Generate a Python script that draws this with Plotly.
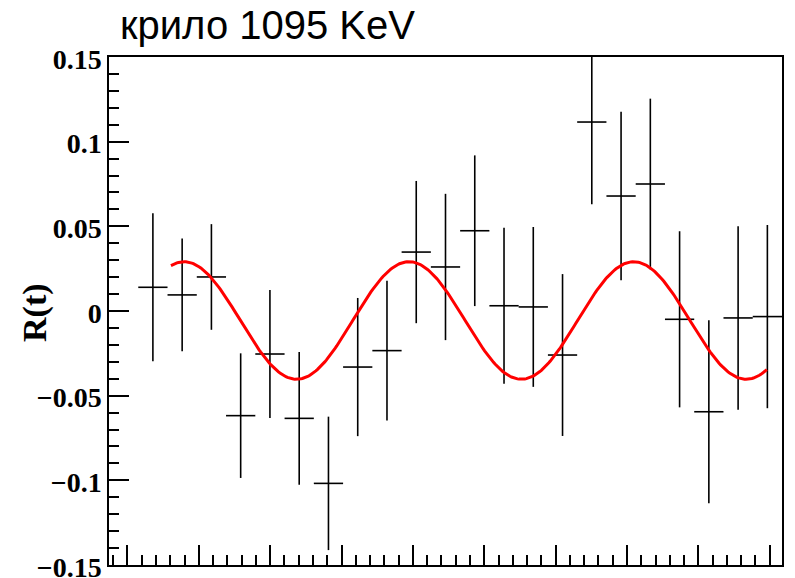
import math
import plotly.graph_objects as go

# ---- data ----
bin_width = 4.1
first_center = 3.57
r_values = [0.0140, 0.0095, 0.0201, -0.0618, -0.0254, -0.0634, -0.1018, -0.0331,
            -0.0234, 0.0348, 0.0260, 0.0474, 0.0031, 0.0024, -0.0260, 0.1116,
            0.0679, 0.0750, -0.0049, -0.0595, -0.0041, -0.0033]
r_errors = [0.0437, 0.0333, 0.0312, 0.0368, 0.0378, 0.0392, 0.0394, 0.0408,
            0.0413, 0.0420, 0.0432, 0.0445, 0.0460, 0.0472, 0.0478, 0.0486,
            0.0497, 0.0504, 0.0520, 0.0540, 0.0542, 0.0541]
t_centers = [first_center + i * bin_width for i in range(len(r_values))]

# fit function parameters (sinusoid)
fit_offset = -0.0056
fit_ampl = 0.0347
fit_period = 31.5
fit_peak_t = 7.95
fit_tmin = 6.1
fit_tmax = 89.6

title_text = "крило 1095 KeV"
y_title = "R(t)"
y_tickvals = [-0.15, -0.1, -0.05, 0, 0.05, 0.1, 0.15]
y_ticktext = ["\u22120.15", "\u22120.1", "\u22120.05", "0", "0.05", "0.1", "0.15"]

n_fit = 400
fit_t = [fit_tmin + (fit_tmax - fit_tmin) * k / (n_fit - 1) for k in range(n_fit)]
fit_r = [fit_offset + fit_ampl * math.cos(2 * math.pi * (t - fit_peak_t) / fit_period) for t in fit_t]

fig = go.Figure()
fig.add_trace(go.Scatter(
    x=t_centers, y=r_values, mode="markers",
    marker=dict(size=1, color="black", opacity=0),
    error_x=dict(type="constant", value=bin_width / 2, width=0, thickness=1.6, color="black"),
    error_y=dict(type="data", array=r_errors, width=0, thickness=1.6, color="black"),
    showlegend=False, hoverinfo="skip",
))
fig.add_trace(go.Scatter(
    x=fit_t, y=fit_r, mode="lines",
    line=dict(color="#ff0000", width=3),
    showlegend=False, hoverinfo="skip",
))

L, R, T, B = 109, 13, 57, 13
W, H = 795, 578
fig.update_layout(
    width=W, height=H, autosize=False,
    margin=dict(l=L, r=R, t=T, b=B, pad=0),
    paper_bgcolor="white", plot_bgcolor="white",
    title=dict(text=title_text, x=120 / W, xanchor="left", xref="container",
               y=1 - 25 / H, yanchor="middle", yref="container",
               font=dict(family="Liberation Sans", size=40, color="black")),
)
fig.update_xaxes(
    range=[-2.58, 91.72], showgrid=False, zeroline=False, automargin=False,
    showline=True, linecolor="black", linewidth=1.5, mirror=True,
    ticks="inside", ticklen=20, tickwidth=1.5, tickcolor="black",
    tick0=0, dtick=10, showticklabels=False,
    minor=dict(ticks="inside", ticklen=10, tickwidth=1.5, tickcolor="black", tick0=0, dtick=2),
)
fig.update_yaxes(
    range=[-0.150001, 0.150001], showgrid=False, zeroline=False, automargin=False,
    showline=True, linecolor="black", linewidth=1.5, mirror=True,
    ticks="inside", ticklen=20, tickwidth=1.5, tickcolor="black",
    tickmode="array", tickvals=y_tickvals, ticktext=y_ticktext,
    tickfont=dict(family="Liberation Serif", size=28, color="black", weight="bold"),
    ticklabelstandoff=0, ticklabelshift=2, ticklabeloverflow="allow",
    minor=dict(ticks="inside", ticklen=10, tickwidth=1.5, tickcolor="black", tick0=0, dtick=0.01),
)
fig.add_annotation(
    text=y_title, textangle=-90, showarrow=False,
    xref="paper", yref="paper", x=(35 - L) / (W - L - R), y=(H - B - 313) / (H - T - B),
    xanchor="center", yanchor="middle",
    font=dict(family="Liberation Serif", size=34, color="black", weight="bold"),
)
fig.write_html("out.html")
